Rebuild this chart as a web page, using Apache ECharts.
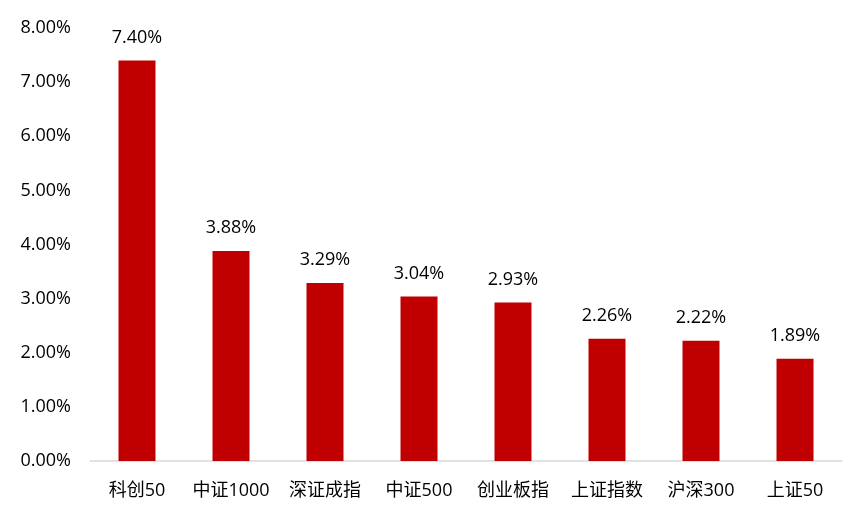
<!DOCTYPE html>
<html><head><meta charset="utf-8">
<script src="https://cdn.jsdelivr.net/npm/echarts@6/dist/echarts.min.js"></script>
<style>html,body{margin:0;padding:0;background:#fff}#c{width:868px;height:518px}</style>
</head><body><div id="c"></div>
<script>
const categories = ['科创50','中证1000','深证成指','中证500','创业板指','上证指数','沪深300','上证50'];
const values = [7.40, 3.88, 3.29, 3.04, 2.93, 2.26, 2.22, 1.89];
const FONT = '"Open Sans", "Noto Sans CJK SC", sans-serif';
const chart = echarts.init(document.getElementById('c'));
chart.setOption({
  animation: false,
  grid: {left: 90, right: 26, top: 28, bottom: 57},
  xAxis: {
    type: 'category', data: categories,
    axisLine: {lineStyle: {color: '#d9d9d9', width: 1.5}},
    axisTick: {show: false},
    axisLabel: {color: '#000', fontSize: 18, fontFamily: FONT, margin: 21, interval: 0, hideOverlap: false}
  },
  yAxis: {
    type: 'value', min: 0, max: 8, interval: 1,
    splitLine: {show: false},
    axisLine: {show: false}, axisTick: {show: false},
    axisLabel: {color: '#000', fontSize: 18, fontFamily: FONT, margin: 19,
      formatter: v => v.toFixed(2) + '%'}
  },
  series: [{
    type: 'bar', data: values, barWidth: 37,
    itemStyle: {color: '#C00000'},
    label: {show: true, position: 'top', distance: 14, color: '#000', fontSize: 18, fontFamily: FONT,
      formatter: p => p.value.toFixed(2) + '%'}
  }]
});
</script></body></html>
